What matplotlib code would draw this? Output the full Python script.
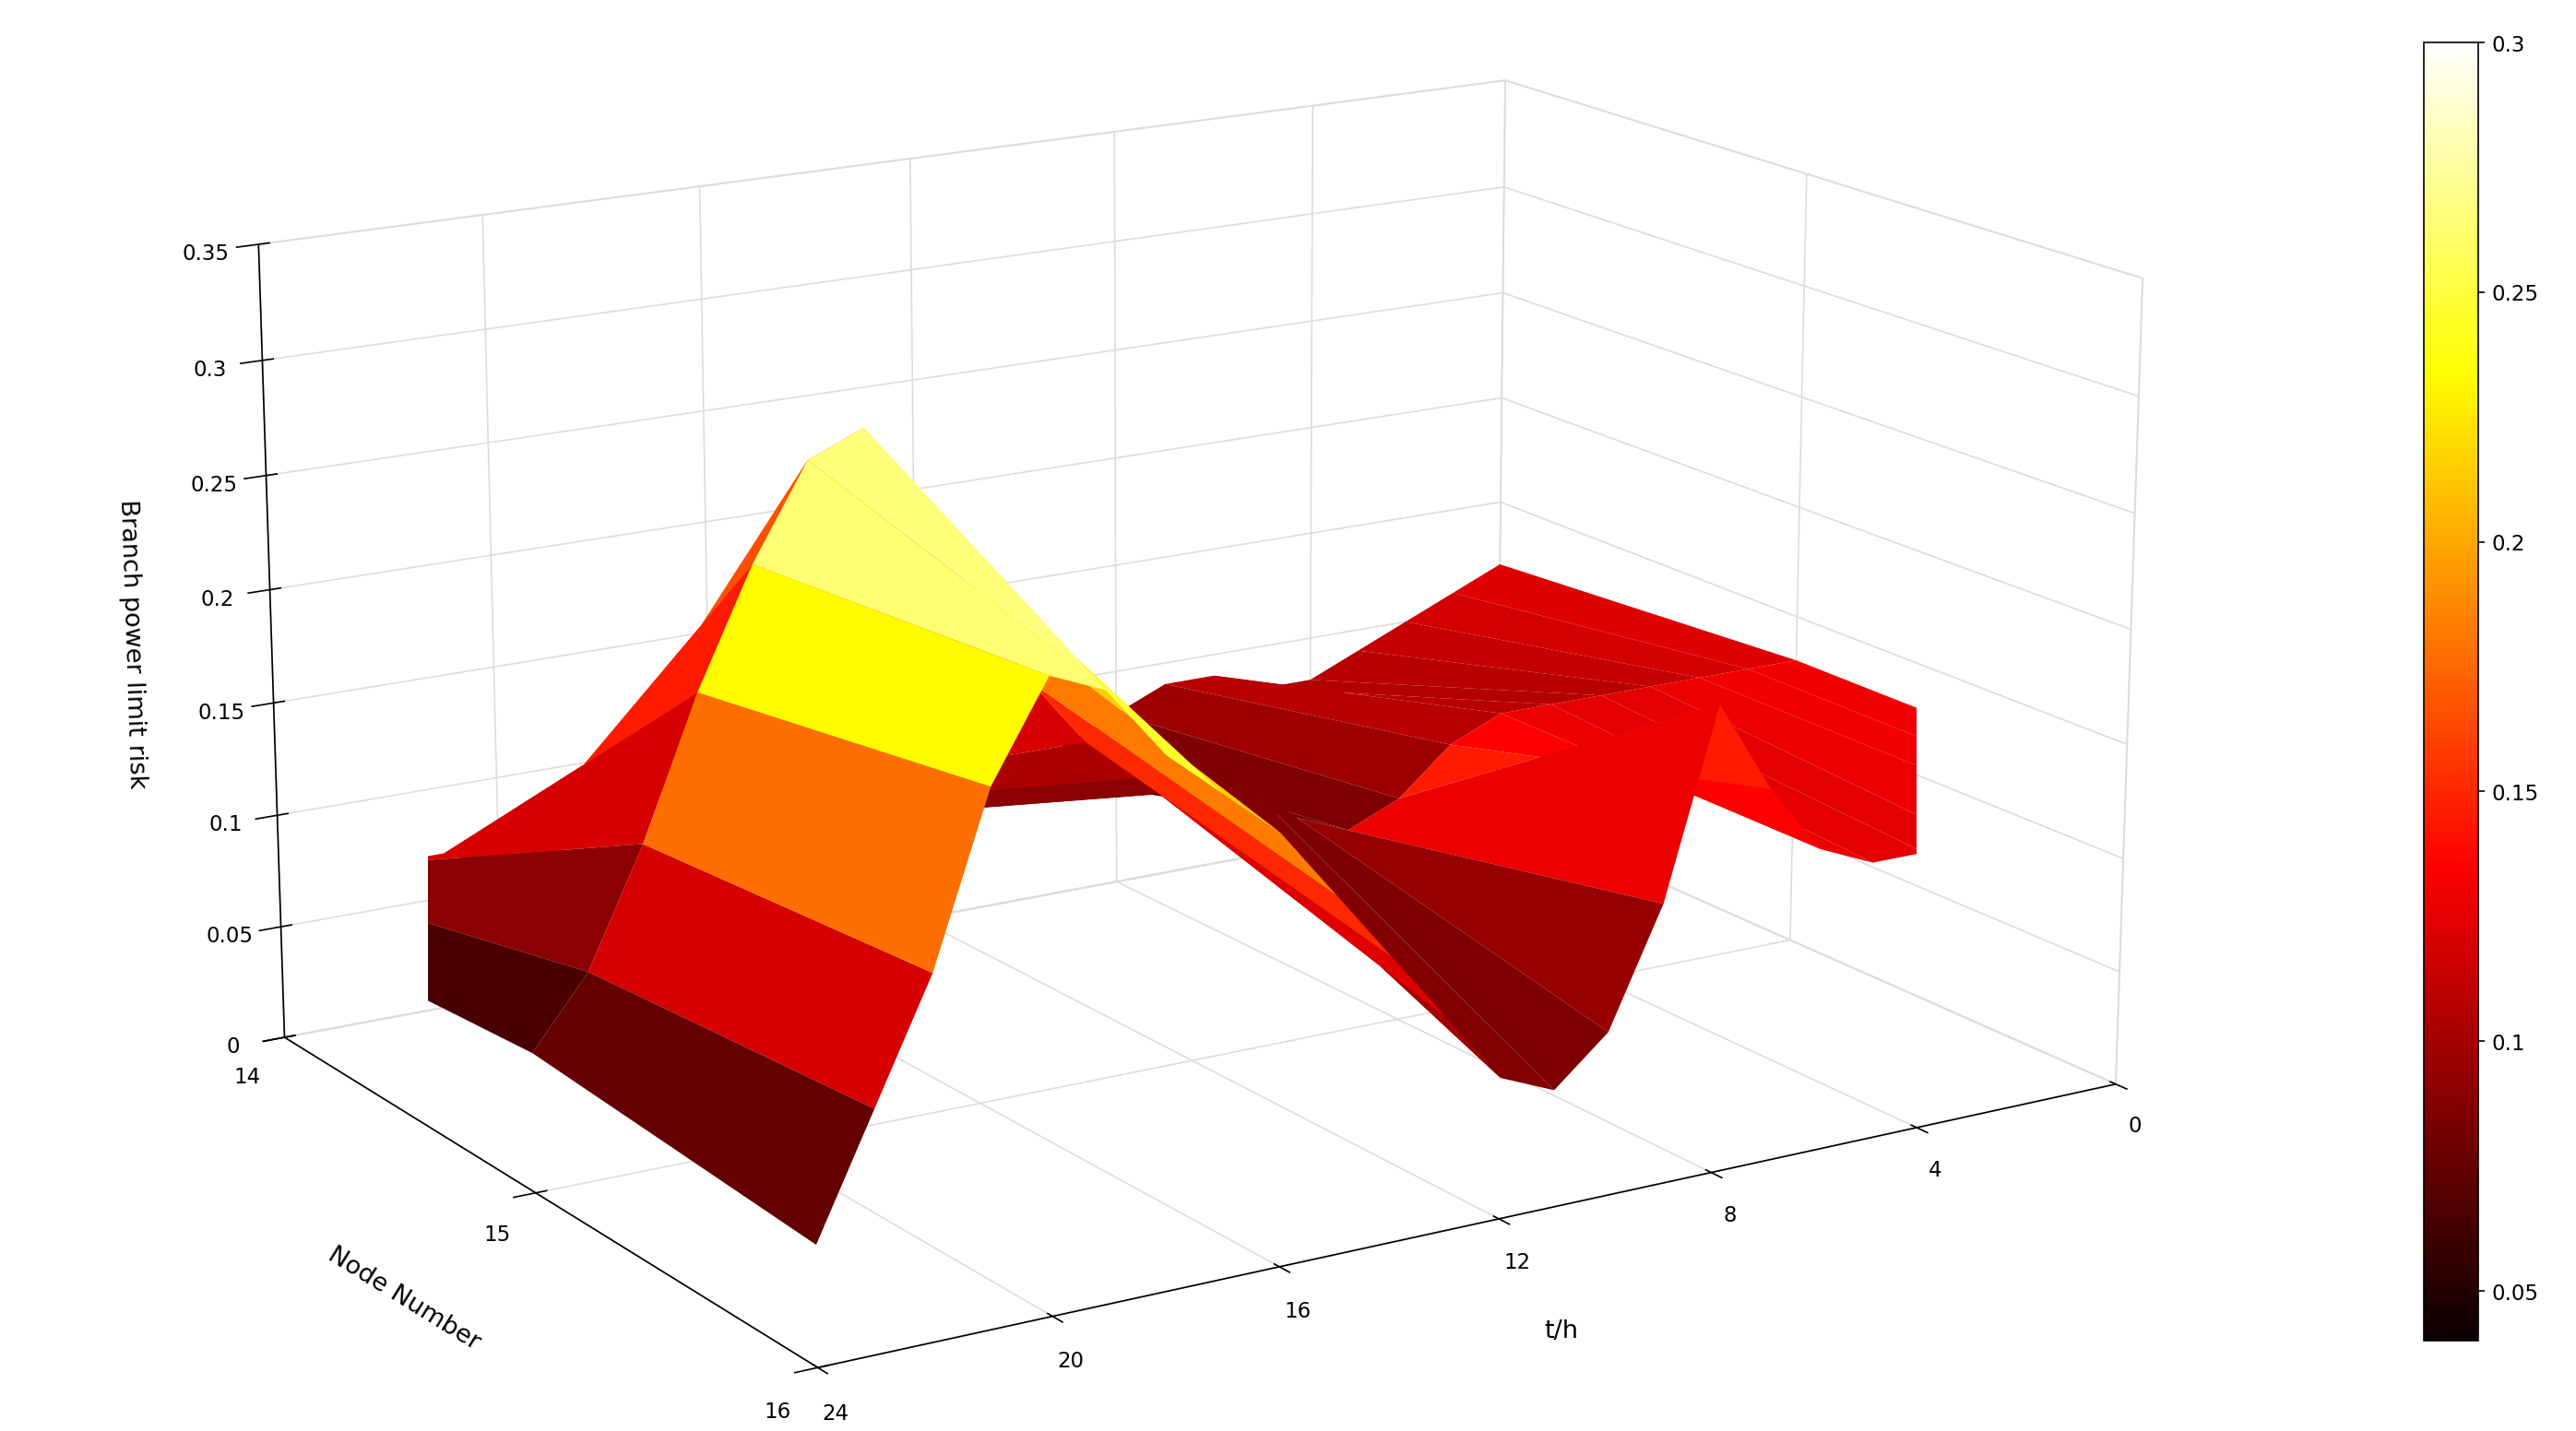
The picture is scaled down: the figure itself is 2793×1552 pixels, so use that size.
import numpy as np
import matplotlib
matplotlib.use("Agg")
import matplotlib.pyplot as plt

t = np.arange(0, 25)
nodes = [14, 15, 16]
# values listed from t=0 to t=24
node14 = [0.12,0.11,0.10,0.09,0.08,0.08,0.09,0.09,0.08,0.07,0.06,0.05,0.05,0.06,0.07,0.08,0.09,0.08,0.07,0.06,0.06,0.07,0.07,0.06,0.05]
node15 = [0.13,0.13,0.13,0.13,0.13,0.13,0.13,0.12,0.10,0.09,0.10,0.12,0.12,0.13,0.15,0.18,0.22,0.26,0.30,0.29,0.25,0.20,0.14,0.09,0.06]
node16 = [0.13,0.13,0.13,0.12,0.12,0.12,0.13,0.16,0.20,0.12,0.07,0.05,0.06,0.09,0.12,0.15,0.18,0.20,0.22,0.25,0.26,0.22,0.15,0.10,0.05]

T, N = np.meshgrid(t, nodes)
Z = np.array([node14, node15, node16])

fig = plt.figure(figsize=(18.62, 10.35), dpi=150)
ax = fig.add_axes([-0.035, 0.0, 0.98, 1.04], projection='3d')
norm = plt.Normalize(0.04, 0.30)
surf = ax.plot_surface(T, N, Z, cmap='hot', norm=norm, rstride=1, cstride=1,
                       linewidth=0, antialiased=True, shade=False)
ax.set_xlim(0, 24)
ax.set_ylim(14, 16)
ax.set_zlim(0, 0.35)
ax.set_xticks([0, 4, 8, 12, 16, 20, 24])
ax.set_yticks([14, 15, 16])
ax.set_zticks([0, 0.05, 0.1, 0.15, 0.2, 0.25, 0.3, 0.35])
ax.set_zticklabels(['0', '0.05', '0.1', '0.15', '0.2', '0.25', '0.3', '0.35'])
ax.set_xlabel('t/h', fontsize=13, labelpad=18)
ax.set_ylabel('Node Number', fontsize=13, labelpad=18)
ax.set_zlabel('Branch power limit risk', fontsize=13, labelpad=10)
for a in (ax.xaxis, ax.yaxis, ax.zaxis):
    a.pane.fill = False
    a.pane.set_edgecolor('#d0d0d0')
    a._axinfo['grid']['color'] = '#dcdcdc'
    a._axinfo['grid']['linewidth'] = 0.8
ax.tick_params(labelsize=11)
ax.set_box_aspect((2.7, 2.0, 1.5), zoom=1.33)
ax.view_init(elev=16, azim=58)

cax = fig.add_axes([0.941, 0.063, 0.021, 0.907])
cb = fig.colorbar(surf, cax=cax, ticks=[0.05, 0.1, 0.15, 0.2, 0.25, 0.3])
cb.ax.set_yticklabels(['0.05', '0.1', '0.15', '0.2', '0.25', '0.3'])
cb.ax.tick_params(labelsize=11)

fig.savefig('out.png', dpi=150)
